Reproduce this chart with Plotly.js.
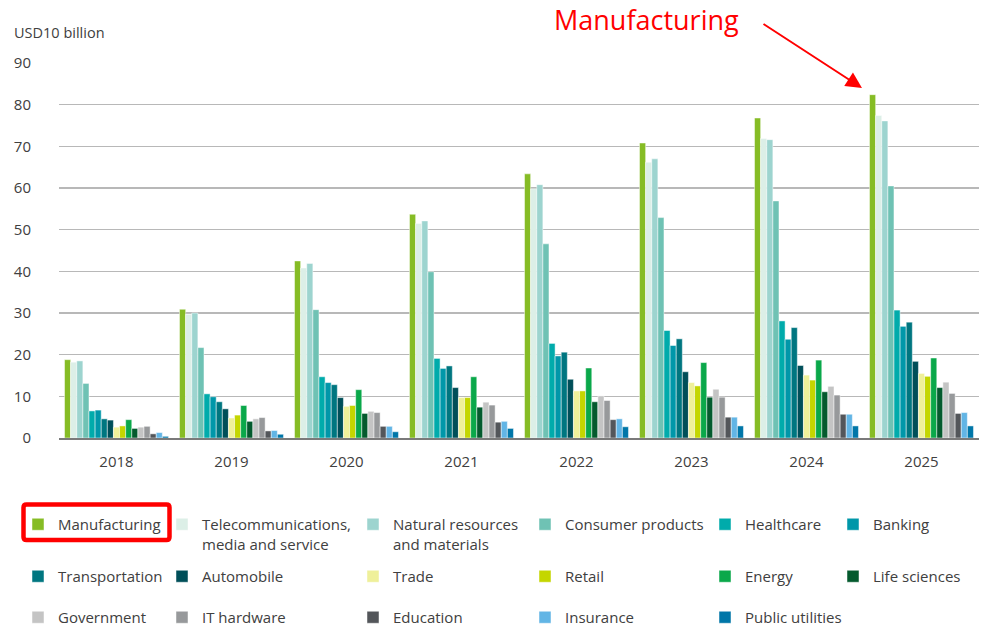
<!DOCTYPE html>
<html>
<head>
<meta charset="utf-8">
<script src="https://cdn.plot.ly/plotly-3.0.1.min.js"></script>
<style>html,body{margin:0;padding:0;background:#fff;}#chart{width:986px;height:626px;}</style>
</head>
<body>
<div id="chart"></div>
<script>
// ---- data ----
const years = ['2018', '2019', '2020', '2021', '2022', '2023', '2024', '2025'];
const seriesNames = ['Manufacturing', 'Telecommunications,<br>media and service', 'Natural resources<br>and materials',
  'Consumer products', 'Healthcare', 'Banking', 'Transportation', 'Automobile', 'Trade', 'Retail', 'Energy',
  'Life sciences', 'Government', 'IT hardware', 'Education', 'Insurance', 'Public utilities'];
const manufacturing  = [18.8, 30.9, 42.5, 53.7, 63.4, 70.8, 76.8, 82.4];
const telecom        = [18.2, 29.7, 40.8, 51.5, 59.8, 66.2, 71.9, 77.4];
const naturalRes     = [18.5, 30.0, 41.9, 52.1, 60.8, 67.0, 71.6, 76.1];
const consumer       = [13.1, 21.7, 30.8, 39.9, 46.6, 52.9, 56.9, 60.5];
const healthcare     = [6.5, 10.6, 14.7, 19.1, 22.7, 25.8, 28.1, 30.7];
const banking        = [6.7, 9.9, 13.3, 16.7, 19.7, 22.2, 23.7, 26.8];
const transportation = [4.6, 8.7, 12.8, 17.3, 20.6, 23.8, 26.5, 27.8];
const automobile     = [4.3, 7.0, 9.7, 12.1, 14.1, 15.9, 17.4, 18.4];
const trade          = [2.6, 4.8, 7.6, 9.7, 11.3, 13.3, 15.1, 15.5];
const retail         = [2.9, 5.5, 7.8, 9.7, 11.3, 12.5, 13.9, 14.8];
const energy         = [4.4, 7.8, 11.6, 14.7, 16.8, 18.1, 18.7, 19.2];
const lifeSciences   = [2.3, 4.0, 5.9, 7.4, 8.7, 9.8, 11.1, 12.1];
const government     = [2.6, 4.6, 6.4, 8.6, 10.1, 11.7, 12.4, 13.4];
const itHardware     = [2.8, 4.9, 6.1, 7.9, 9.0, 9.8, 10.3, 10.7];
const education      = [1.0, 1.7, 2.8, 3.8, 4.4, 5.0, 5.7, 5.9];
const insurance      = [1.3, 1.8, 2.8, 4.0, 4.6, 5.0, 5.7, 6.1];
const publicUtil     = [0.4, 0.9, 1.5, 2.3, 2.7, 2.9, 2.9, 2.9];
const yTicks = [0, 10, 20, 30, 40, 50, 60, 70, 80, 90];

const seriesValues = [manufacturing, telecom, naturalRes, consumer, healthcare, banking, transportation,
  automobile, trade, retail, energy, lifeSciences, government, itHardware, education, insurance, publicUtil];

// ---- styles ----
const colors = ['#86bc25', '#dcefe7', '#9dd4cf', '#6fc2b4', '#00abab', '#0097a9', '#007680', '#004f59',
  '#eff09a', '#c4d600', '#0aa84a', '#045a2e', '#c4c4c4', '#97999b', '#53565a', '#62b5e5', '#0076a8'];

const W = 986, H = 626;
// plot area in pixels
const L = 59, R = 979, T = 63, B = 438;
const cx = x => x / W;          // container x
const cy = y => 1 - y / H;      // container y

// legend layout: column swatch centers and row centers (pixels)
const colCenters = [42, 186, 377, 549, 729, 857];
const rowCenters = [525, 577, 618];

const traces = seriesNames.map((name, i) => ({
  type: 'bar',
  name: name,
  x: years,
  y: seriesValues[i],
  marker: {color: colors[i], line: {color: 'rgba(255,255,255,0.8)', width: 0.6}},
  legend: i === 0 ? 'legend' : 'legend' + (i + 1),
  hoverinfo: 'x+y+name'
}));

const layout = {
  width: W, height: H,
  margin: {l: L, r: W - R, t: T, b: H - B, autoexpand: false},
  paper_bgcolor: '#fff', plot_bgcolor: '#fff',
  font: {family: '"Open Sans", sans-serif', size: 15, color: '#404040'},
  barmode: 'group',
  bargap: 0.096,
  bargroupgap: 0,
  xaxis: {
    type: 'category',
    showgrid: false,
    showline: true, linecolor: '#7a7a7a', linewidth: 2,
    ticks: '', ticklabelstandoff: 9,
    tickfont: {size: 15, color: '#404040'}
  },
  yaxis: {
    range: [0, 90],
    tickvals: yTicks,
    showgrid: true, gridcolor: '#b8b8b8', gridwidth: 1.2,
    zeroline: false, showline: false, ticks: '',
    ticklabelstandoff: 27,
    tickfont: {size: 15, color: '#404040'}
  },
  showlegend: true,
  annotations: [
    {xref: 'paper', yref: 'paper', x: (12 - L) / (R - L), y: (B - 32) / (B - T), xanchor: 'left', yanchor: 'middle',
      text: 'USD10 billion', showarrow: false, font: {size: 14.5, color: '#404040'}},
    {xref: 'paper', yref: 'paper', x: (646 - L) / (R - L), y: (B - 19) / (B - T), xanchor: 'center', yanchor: 'middle',
      text: 'Manufacturing', showarrow: false, font: {size: 27, color: '#ff0000'}},
    {xref: 'paper', yref: 'paper', x: (862 - L) / (R - L), y: (B - 88) / (B - T), text: '', showarrow: true,
      ax: -100, ay: -65, arrowcolor: '#ff0000', arrowwidth: 2, arrowhead: 2, arrowsize: 1.6}
  ],
  shapes: []
};

// legends: one per series, arranged on a 6-column grid
seriesNames.forEach((name, i) => {
  const key = i === 0 ? 'legend' : 'legend' + (i + 1);
  const col = i % 6, row = Math.floor(i / 6);
  layout[key] = {
    xref: 'container', yref: 'container',
    x: cx(colCenters[col] - 24), y: cy(rowCenters[row] - 17),
    xanchor: 'left', yanchor: 'top', orientation: 'v', valign: 'top',
    bgcolor: 'rgba(0,0,0,0)', borderwidth: 0,
    font: {size: 15, color: '#404040'}
  };
});

// red rounded box around the Manufacturing legend entry (paper coords)
(function () {
  const px = x => (x - L) / (R - L), py = y => (B - y) / (B - T);
  const x0 = 23.5, x1 = 169.5, y0 = 504.5, y1 = 540, r = 3;
  const rx = r / (R - L), ry = r / (B - T);
  const X0 = px(x0), X1 = px(x1), Y0 = py(y0), Y1 = py(y1);
  const path = `M${X0 + rx},${Y0} L${X1 - rx},${Y0} Q${X1},${Y0} ${X1},${Y0 - ry} L${X1},${Y1 + ry} Q${X1},${Y1} ${X1 - rx},${Y1} L${X0 + rx},${Y1} Q${X0},${Y1} ${X0},${Y1 + ry} L${X0},${Y0 - ry} Q${X0},${Y0} ${X0 + rx},${Y0} Z`;
  layout.shapes.push({type: 'path', xref: 'paper', yref: 'paper', path: path,
    line: {color: '#ff0000', width: 4.5}});
})();

Plotly.newPlot('chart', traces, layout, {displayModeBar: false, staticPlot: true});
</script>
</body>
</html>
